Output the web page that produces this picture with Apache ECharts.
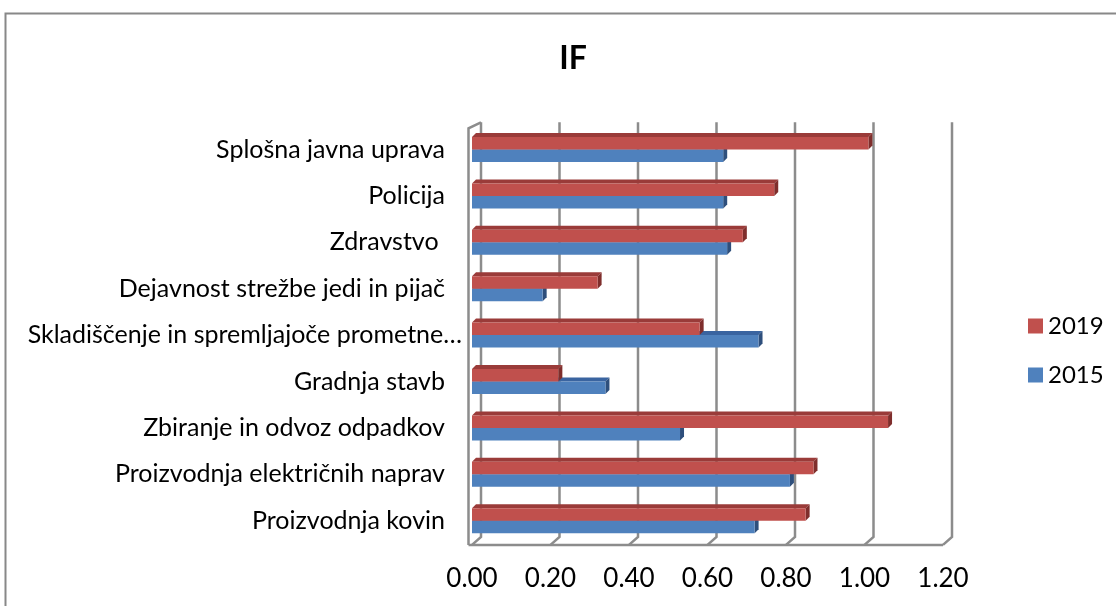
<!DOCTYPE html>
<html>
<head>
<meta charset="utf-8">
<script src="https://cdn.jsdelivr.net/npm/echarts@6/dist/echarts.min.js"></script>
<style>
  html, body { margin: 0; padding: 0; background: #fff; }
  #chart { width: 1116px; height: 606px; }
</style>
</head>
<body>
<div id="chart"></div>
<script>
// Categories, top to bottom
const categories = [
  'Splošna javna uprava',
  'Policija',
  'Zdravstvo ',
  'Dejavnost strežbe jedi in pijač',
  'Skladiščenje in spremljajoče prometne…',
  'Gradnja stavb',
  'Zbiranje in odvoz odpadkov',
  'Proizvodnja električnih naprav',
  'Proizvodnja kovin'
];
const values2019 = [1.01, 0.77, 0.69, 0.32, 0.58, 0.22, 1.06, 0.87, 0.85];
const values2015 = [0.64, 0.64, 0.65, 0.18, 0.73, 0.34, 0.53, 0.81, 0.72];
const xTicks = [0, 0.2, 0.4, 0.6, 0.8, 1.0, 1.2];

const FONT = 'Lato';
const DEPTH = 4;          // bar extrusion
const WALL_DX = 9, WALL_DY = 8; // back wall offset
const BAR_H = 12.5;

function barItem(upper, faceColor, topColor, sideColor) {
  return function (params, api) {
    const v = api.value(0), i = api.value(1);
    const a = api.coord([0, i]);
    const b = api.coord([v, i]);
    const x0 = a[0], x1 = b[0];
    const c = a[1];
    const yTop = upper ? c - BAR_H : c;
    const yBot = upper ? c : c + BAR_H;
    const d = DEPTH;
    return {
      type: 'group',
      children: [
        { type: 'polygon', shape: { points: [[x0, yTop], [x1, yTop], [x1 + d, yTop - d], [x0 + d, yTop - d]] },
          style: { fill: topColor } },
        { type: 'polygon', shape: { points: [[x1, yTop], [x1, yBot], [x1 + d, yBot - d], [x1 + d, yTop - d]] },
          style: { fill: sideColor } },
        { type: 'rect', shape: { x: x0, y: yTop, width: x1 - x0, height: yBot - yTop },
          style: { fill: faceColor } }
      ]
    };
  };
}

// Back wall gridlines, floor and left wall
function frameItem(params, api) {
  const v = api.value(0);
  const n = categories.length;
  const band = api.size([0, 1])[1];
  const floorY = api.coord([0, n - 1])[1] + band / 2 + 1;
  const topY = api.coord([0, 0])[1] - band / 2 - WALL_DX + 5;
  const x = api.coord([v, 0])[0];
  const stroke = { stroke: '#8c8c8c', lineWidth: 2.5, fill: null };
  const children = [
    { type: 'polyline', shape: { points: [[x, floorY], [x + WALL_DX, floorY - WALL_DY], [x + WALL_DX, topY]] }, style: stroke }
  ];
  if (params.dataIndex === 0) {
    const xl = x - 3.5;
    const xEnd = api.coord([xTicks[xTicks.length - 1], 0])[0];
    children.push(
      { type: 'polyline', shape: { points: [[xl, floorY], [xl, topY + 6], [x + WALL_DX, topY]] }, style: stroke },
      { type: 'line', shape: { x1: xl, y1: floorY, x2: xEnd, y2: floorY }, style: stroke }
    );
  }
  return { type: 'group', children };
}

const chart = echarts.init(document.getElementById('chart'), null, { renderer: 'canvas' });
chart.setOption({
  backgroundColor: '#fff',
  animation: false,
  textStyle: { fontFamily: FONT, color: '#000' },
  title: {
    text: 'IF',
    left: 568, top: 38, textAlign: 'center',
    textStyle: { fontFamily: FONT, fontWeight: 'bold', fontSize: 32, color: '#000' }
  },
  graphic: [
    { type: 'polyline', shape: { points: [[5.5, 700], [5.5, 13.5], [1200, 13.5]] },
      style: { stroke: '#888', lineWidth: 2, fill: null }, silent: true }
  ],
  legend: {
    orient: 'vertical',
    left: 1023, top: 309,
    itemWidth: 15, itemHeight: 15, itemGap: 25,
    icon: 'rect',
    textStyle: { fontFamily: FONT, fontSize: 24, color: '#000' },
    data: [
      { name: '2019', itemStyle: { color: '#C0504D' } },
      { name: '2015', itemStyle: { color: '#4F81BD' } }
    ]
  },
  grid: { left: 472, right: 173, top: 126.3, bottom: 62.1, containLabel: false },
  xAxis: {
    type: 'value', min: 0, max: 1.2, interval: 0.2,
    axisLine: { show: false }, axisTick: { show: false }, splitLine: { show: false },
    axisLabel: {
      margin: 22, fontFamily: FONT, fontSize: 26, color: '#000',
      formatter: v => v.toFixed(2)
    }
  },
  yAxis: {
    type: 'category', inverse: true,
    data: categories.map((c, i) => i === 4
      ? { value: c, textStyle: { padding: [9, -17, 0, 0] } }
      : c),
    axisLine: { show: false }, axisTick: { show: false },
    axisLabel: { margin: 27, fontFamily: FONT, fontSize: 25, color: '#000', padding: [9, 0, 0, 0] }
  },
  series: [
    {
      name: 'frame', type: 'custom', silent: true, z: 1,
      data: xTicks.map(t => [t, 0]),
      encode: { x: 0, y: 1 },
      renderItem: frameItem
    },
    {
      name: '2015', type: 'custom', z: 2,
      itemStyle: { color: '#4F81BD' },
      data: values2015.map((v, i) => [v, i]),
      encode: { x: 0, y: 1 },
      renderItem: barItem(false, '#4F81BD', '#3A64A0', '#2E4F7C')
    },
    {
      name: '2019', type: 'custom', z: 3,
      itemStyle: { color: '#C0504D' },
      data: values2019.map((v, i) => [v, i]),
      encode: { x: 0, y: 1 },
      renderItem: barItem(true, '#C0504D', '#9A3B39', '#7F2E2C')
    }
  ]
});
</script>
</body>
</html>
